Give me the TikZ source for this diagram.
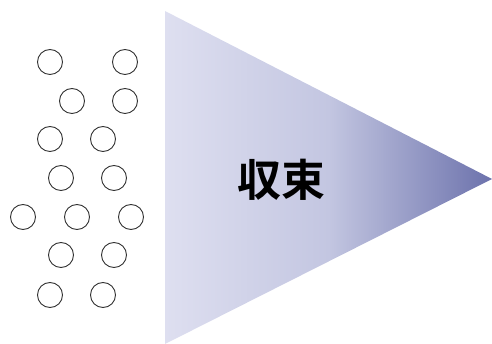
\documentclass[tikz,border=0pt]{standalone}
\usepackage{fontspec}
\newfontfamily\cjk{Noto Sans CJK JP}[BoldFont={* Bold}]
\begin{document}
\begin{tikzpicture}[x=1pt,y=-1pt,
  dot/.style={circle,draw=black!80,line width=0.9pt,minimum size=25pt,inner sep=0pt}]
\useasboundingbox (0,0) rectangle (492,344);
\shade[left color={rgb,255:red,222;green,223;blue,240},right color={rgb,255:red,108;green,114;blue,172},middle color={rgb,255:red,195;green,198;blue,225}]
  (165,11) -- (492,179) -- (165,344) -- cycle;
\node[font=\cjk\bfseries\fontsize{44}{48}\selectfont] (t) at (281,180) {収束};
\foreach \x/\y [count=\i] in {50/62,125/62,72/101,125/101,50/139,103/139,61/178,114/178,23/217,77/217,131/217,61/255,114/255,50/295,103/295}
  \node[dot] (c\i) at (\x,\y) {};
\end{tikzpicture}
\end{document}
